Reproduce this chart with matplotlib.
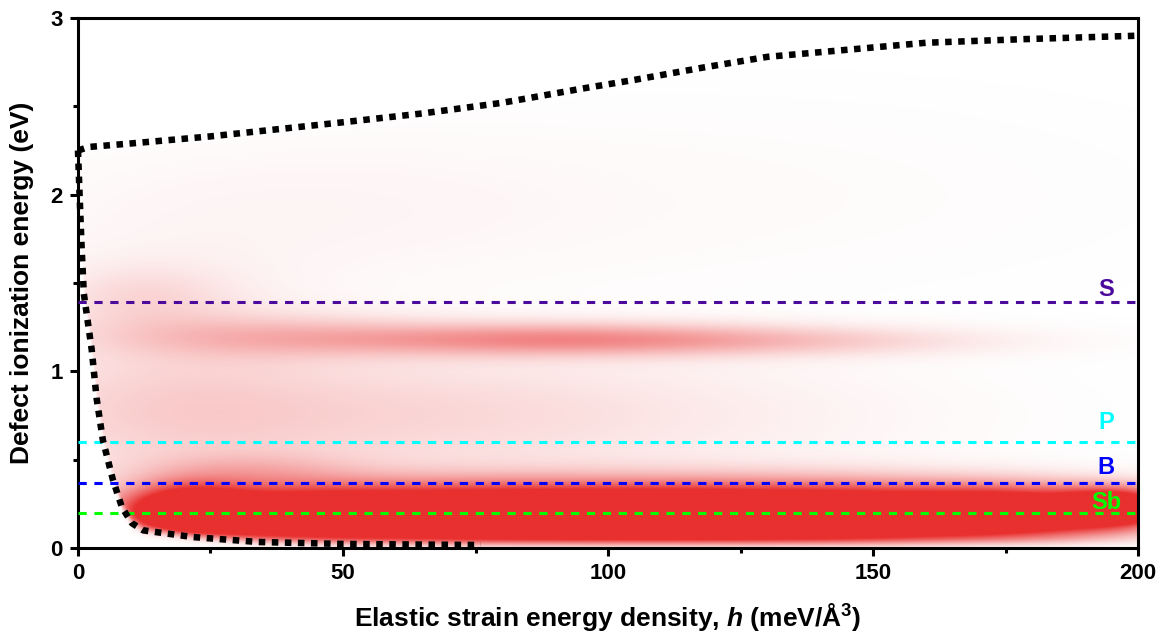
import numpy as np
import matplotlib
matplotlib.use("Agg")
import matplotlib.pyplot as plt
from matplotlib.colors import LinearSegmentedColormap

plt.rcParams["font.family"] = ["Liberation Sans", "DejaVu Sans"]
plt.rcParams["font.weight"] = "bold"
plt.rcParams["mathtext.fontset"] = "custom"
plt.rcParams["mathtext.bfit"] = "Liberation Sans:italic:bold"
plt.rcParams["mathtext.bf"] = "Liberation Sans:bold"
plt.rcParams["mathtext.rm"] = "Liberation Sans:bold"

# Boundary of the accessible region (dotted envelopes)
upper_h = [0.0, 2, 10, 25, 50, 65, 80, 95, 105, 118, 130, 145, 160, 178, 200]
upper_e = [2.25, 2.27, 2.29, 2.33, 2.41, 2.46, 2.52, 2.60, 2.65, 2.72, 2.78, 2.82, 2.86, 2.88, 2.90]
lower_h = [0.0, 0.3, 0.7, 1.1, 2.6, 3.5, 4.7, 6.6, 8.3, 10.2, 12.3, 21.7, 34, 50, 76]
lower_e = [2.25, 2.0, 1.69, 1.44, 1.12, 0.85, 0.61, 0.385, 0.23, 0.14, 0.10, 0.062, 0.034, 0.023, 0.017]

# Dopant ionization levels
dopants = ["S", "P", "B", "Sb"]
dopant_levels = [1.39, 0.60, 0.37, 0.20]

# Density clusters: centre (h, E), spread (h, E), weight
blob_h = [20, 40, 75, 110, 145, 178, 196, 32, 55, 18, 88, 35, 135, 12, 40, 120]
blob_e = [0.21, 0.18, 0.18, 0.18, 0.18, 0.20, 0.23, 0.44, 0.75, 0.90, 1.18, 1.20, 1.17, 1.42, 1.90, 2.00]
blob_sh = [8, 18, 20, 20, 20, 16, 7, 14, 55, 20, 30, 22, 28, 12, 40, 60]
blob_se = [0.10, 0.115, 0.12, 0.12, 0.12, 0.10, 0.07, 0.07, 0.25, 0.45, 0.065, 0.09, 0.06, 0.13, 0.30, 0.40]
blob_w = [1.2, 1.4, 1.5, 1.5, 1.5, 1.4, 1.2, 0.20, 0.20, 0.10, 0.50, 0.22, 0.18, 0.14, 0.04, 0.02]

fig = plt.figure(figsize=(11.64, 6.37), dpi=100)
ax = fig.add_axes([0.067, 0.1397, 0.9107, 0.832])

# density map on a fine grid
hh = np.linspace(0, 200, 801)
ee = np.linspace(0, 3, 601)
H, E = np.meshgrid(hh, ee)
dens = np.zeros_like(H)
for h0, e0, sh, se, w in zip(blob_h, blob_e, blob_sh, blob_se, blob_w):
    dens += w * np.exp(-0.5 * ((H - h0) / sh) ** 2 - 0.5 * ((E - e0) / se) ** 2)

# fade out outside the envelopes
e_top = np.interp(H, upper_h, upper_e)
e_bot = np.interp(H, lower_h, lower_e)
inside = 1 / (1 + np.exp(-(e_top - E) / 0.02)) * 1 / (1 + np.exp(-(E - e_bot) / 0.015))
dens *= inside

cmap = LinearSegmentedColormap.from_list("wr", ["#ffffff", "#e8302f"])
ax.imshow(dens, extent=[0, 200, 0, 3], origin="lower", aspect="auto",
          cmap=cmap, vmin=0, vmax=1, interpolation="bilinear", zorder=0)

# envelopes
for xs, ys in [(upper_h, upper_e), (lower_h, lower_e)]:
    ax.plot(xs, ys, color="black", lw=4.7, linestyle=(0, (1, 1)),
            dash_capstyle="butt", zorder=4, clip_on=False)

# dopant levels
colors = ["#4b0a9c", "#00ffff", "#0000ff", "#00ff00"]
offsets = [9, 14, 11, 7]
for name, lvl, c, off in zip(dopants, dopant_levels, colors, offsets):
    ax.axhline(lvl, color=c, lw=2.2, linestyle=(0, (2.7, 2.5)), zorder=3)
    ax.annotate(name, xy=(194, lvl), xytext=(0, off), textcoords="offset points",
                ha="center", va="center", color=c, fontsize=17, fontweight="bold",
                zorder=5)

ax.set_xlim(0, 200)
ax.set_ylim(0, 3)
ax.set_xticks([0, 50, 100, 150, 200])
ax.set_xticks([25, 75, 125, 175], minor=True)
ax.set_yticks([0, 1, 2, 3])
ax.set_yticks([0.5, 1.5, 2.5], minor=True)
for s in ax.spines.values():
    s.set_linewidth(2.2)
ax.tick_params(which="major", direction="out", length=6, width=2.2, labelsize=16, pad=5)
ax.tick_params(which="minor", direction="out", length=3.5, width=2.2)
ax.set_xlabel("Elastic strain energy density, $\\mathbfit{h}$ (meV/Å$^\\mathbf{3}$)",
              fontsize=19, fontweight="bold", labelpad=12)
ax.set_ylabel("Defect ionization energy (eV)", fontsize=19, fontweight="bold", labelpad=12)
for lab in ax.get_xticklabels() + ax.get_yticklabels():
    lab.set_fontweight("bold")

fig.savefig("out.png", dpi=100)
